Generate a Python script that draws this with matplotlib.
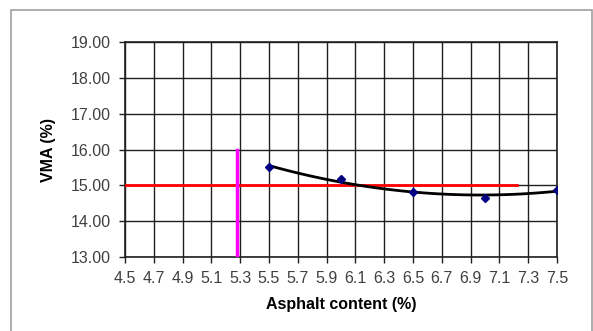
import numpy as np
import matplotlib
matplotlib.use('Agg')
import matplotlib.pyplot as plt
from matplotlib.patches import Rectangle

plt.rcParams['font.family'] = ['Liberation Sans', 'DejaVu Sans']

# measured VMA values
asphalt = [5.5, 6.0, 6.5, 7.0, 7.5]
vma = [15.51, 15.17, 14.82, 14.64, 14.88]

# criteria lines
vma_min = 15.0
vma_min_x = [4.5, 7.22]
design_ac = 5.28
design_y = [13.0, 16.0]

xticks = np.round(np.arange(4.5, 7.51, 0.2), 1)
yticks = np.arange(13.0, 19.01, 1.0)

W, H = 593, 331
fig = plt.figure(figsize=(W / 100, H / 100), dpi=100)
fig.patches.append(Rectangle((11 / W, -0.05), (592 - 11) / W, 1.05 - 10 / H,
                             transform=fig.transFigure, fill=False,
                             edgecolor='#a0a0a0', linewidth=1.2))
ax = fig.add_axes([125 / W, 1 - 257 / H, (557 - 125) / W, (257 - 42) / H])

#
# fitted 2nd order trendline
#
coef = np.polyfit(asphalt, vma, 2)
xs = np.linspace(min(asphalt), max(asphalt), 100)
ax.plot(xs, np.polyval(coef, xs), color='black', lw=2, zorder=4)
ax.plot(asphalt, vma, linestyle='none', marker='D', ms=4.5,
        color='#000080', zorder=5)
ax.plot(vma_min_x, [vma_min, vma_min], color='#ff0000', lw=2, zorder=3)
ax.plot([design_ac, design_ac], design_y, color='#ff00ff', lw=2.5, zorder=3)

ax.set_xlim(4.5, 7.5)
ax.set_ylim(13, 19)
ax.set_xticks(xticks)
ax.set_xticklabels(['{0:.1f}'.format(t) for t in xticks])
ax.set_yticks(yticks)
ax.set_yticklabels(['{0:.2f}'.format(t) for t in yticks])
ax.grid(True, color='#202020', lw=1)
ax.set_axisbelow(True)
for s in ax.spines.values():
    s.set_color('#202020')
    s.set_linewidth(1.2)
ax.tick_params(direction='out', length=4, width=1, labelsize=11.5,
               colors='#202020', labelcolor='#404040', pad=6)
ax.set_xlabel('Asphalt content (%)', fontsize=11.5, fontweight='bold',
              labelpad=8)
ax.set_ylabel('VMA (%)', fontsize=11.5, fontweight='bold', labelpad=11)

fig.savefig('out.png', dpi=100)
